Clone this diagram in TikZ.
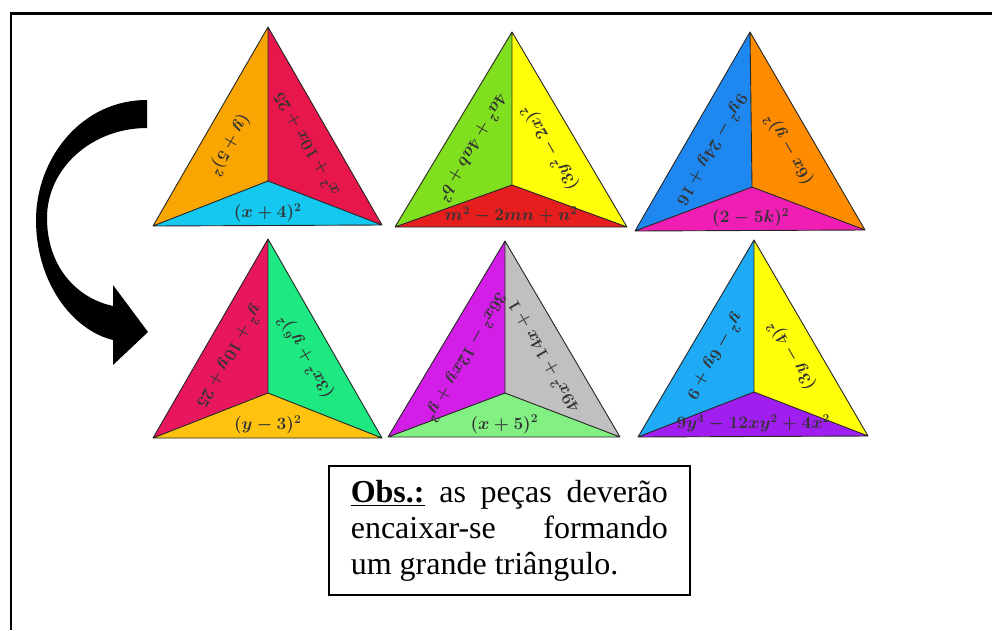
\documentclass[tikz,border=0pt]{standalone}
\usepackage{fontspec}
\usepackage{amsmath}
\setmainfont{Liberation Serif}
\usetikzlibrary{calc,positioning}
\definecolor{pcOrange}{HTML}{F9A602}
\definecolor{pcCrimson}{HTML}{E8174B}
\definecolor{pcCyan}{HTML}{14C8F0}
\definecolor{pcLime}{HTML}{80E020}
\definecolor{pcYellow}{HTML}{FFFF0A}
\definecolor{pcRed}{HTML}{E61E1E}
\definecolor{pcBlue}{HTML}{1E88F0}
\definecolor{pcDeepOr}{HTML}{FF8C00}
\definecolor{pcMagenta}{HTML}{F01EB4}
\definecolor{pcRose}{HTML}{E8175D}
\definecolor{pcSpring}{HTML}{1EE882}
\definecolor{pcGold}{HTML}{FFC30F}
\definecolor{pcViolet}{HTML}{D21EE6}
\definecolor{pcGray}{HTML}{C0C0C0}
\definecolor{pcMint}{HTML}{82F082}
\definecolor{pcSky}{HTML}{1EAAF5}
\definecolor{pcPurple}{HTML}{A01EF0}
\tikzset{
  piece/.style={draw=black!85, line width=0.9pt, line join=round},
  expr/.style={font=\fontsize{17}{20}\selectfont\boldmath, text=black!80, inner sep=0pt},
  leftexpr/.style={expr, rotate=-120},
  rightexpr/.style={expr, rotate=120},
  frameline/.style={line width=2.5pt, black},
  obsbox/.style={draw, line width=1.6pt, anchor=north west, text width=317pt,
    align=justify, inner xsep=22pt, inner ysep=14pt,
    font=\fontsize{32}{36}\selectfont}
}
\begin{document}
\begin{tikzpicture}[x=1pt, y=-1pt]
  \useasboundingbox (0,0) rectangle (992,630);
  % page frame
  \coordinate (fl) at (11,630);
  \coordinate (fc) at (11,13.5);
  \coordinate (fr) at (992,13.5);
  \draw[frameline] (fl) -- (fc) -- (fr);
  % the six pieces
  \foreach \i/\pa/\pl/\pr/\pc/\fa/\fb/\fc/\la/\lb/\lc in {
    1/{268,27}/{153,226}/{382,225}/{268,181}/pcOrange/pcCrimson/pcCyan/{$(y+5)^2$}/{$x^2+10x+25$}/{$(x+4)^2$},
    2/{512,32}/{395,227}/{627,227}/{512,185}/pcLime/pcYellow/pcRed/{$4a^2+4ab+b^2$}/{$(3y^2-2x)^2$}/{$m^2-2mn+n^2$},
    3/{750,32}/{635,231}/{865,230}/{752,187}/pcBlue/pcDeepOr/pcMagenta/{$9y^2-24y+16$}/{$(6x-y)^2$}/{$(2-5k)^2$},
    4/{268,239}/{153,438}/{382,438}/{268,393}/pcRose/pcSpring/pcGold/{$y^2+10y+25$}/{$(3x^2+y^6)^2$}/{$(y-3)^2$},
    5/{505,241}/{388,437}/{620,437}/{505,393}/pcViolet/pcGray/pcMint/{$36x^2-12xy+y^2$}/{$49x^2+14x+1$}/{$(x+5)^2$},
    6/{754,240}/{638,437}/{868,436}/{754,392}/pcSky/pcYellow/pcPurple/{$y^2-6y+9$}/{$(3y-4)^2$}/{$9y^4-12xy^2+4x^2$}}
  {
    \coordinate (a\i) at (\pa);
    \coordinate (l\i) at (\pl);
    \coordinate (r\i) at (\pr);
    \coordinate (c\i) at (\pc);
    \fill[\fa] (a\i) -- (c\i) -- (l\i) -- cycle;
    \fill[\fb] (a\i) -- (r\i) -- (c\i) -- cycle;
    \fill[\fc] (l\i) -- (c\i) -- (r\i) -- cycle;
    \draw[piece] (a\i) -- (l\i) -- (r\i) -- cycle
      (a\i) -- (c\i) (l\i) -- (c\i) -- (r\i);
    \node[leftexpr] (tl\i) at (barycentric cs:a\i=1,c\i=1,l\i=1) {\la};
    \node[rightexpr] (tr\i) at (barycentric cs:a\i=1,c\i=1,r\i=1) {\lb};
    \node[expr] (tb\i) at ($(barycentric cs:l\i=1,c\i=1,r\i=1)+(0,2)$) {\lc};
  }
  % curved arrow
  \coordinate (arTop) at (147,100);
  \coordinate (arIn) at (147,128);
  \coordinate (arTip) at (148,332);
  \fill[black] (arTop) .. controls (80,100) and (36,160) .. (36,220)
    .. controls (36,282) and (72,330) .. (113,340)
    -- (113,365) -- (arTip) -- (113,285) -- (113,306)
    .. controls (76,298) and (47,266) .. (47,218)
    .. controls (47,168) and (92,128) .. (arIn) -- cycle;
  % note
  \node[obsbox] (obs) at (328,465)
    {\hyphenpenalty=10000\relax\exhyphenpenalty=10000\relax
     \underline{\textbf{Obs.:}} as peças deverão encaixar-se formando um grande triângulo.};
\end{tikzpicture}
\end{document}
